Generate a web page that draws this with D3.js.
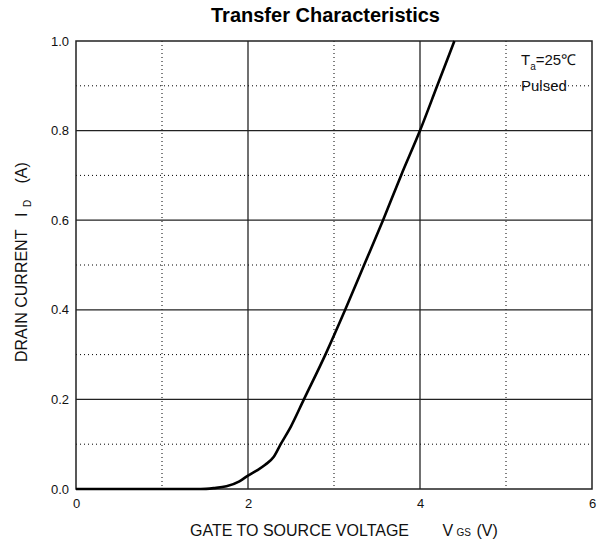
<!DOCTYPE html>
<html><head><meta charset="utf-8">
<script src="https://cdn.jsdelivr.net/npm/d3@7"></script>
<style>
body{margin:0;background:#fff;}
svg{display:block;font-family:"Liberation Sans",Arial,sans-serif;}
</style></head>
<body><svg id="c" width="602" height="549"></svg>
<script>
const vgs = [0, 1.45, 1.6, 1.75, 1.9, 2.0, 2.1, 2.2, 2.3, 2.38, 2.5, 2.65, 2.9, 3.13, 3.35, 3.57, 3.78, 4.0, 4.2, 4.4];
const idrain = [0, 0, 0.002, 0.006, 0.017, 0.030, 0.041, 0.054, 0.072, 0.1, 0.14, 0.2, 0.3, 0.4, 0.5, 0.6, 0.7, 0.8, 0.9, 1.0];
const xTicks = [0, 2, 4, 6];
const xMinor = [1, 3, 5];
const yTicks = [0.0, 0.2, 0.4, 0.6, 0.8, 1.0];
const yMinor = [0.1, 0.3, 0.5, 0.7, 0.9];

const svg = d3.select("#c");
const L = 76, R = 592, T = 41, B = 489;
const x = d3.scaleLinear().domain([0, 6]).range([L, R]);
const y = d3.scaleLinear().domain([0, 1]).range([B, T]);

// minor dotted grid
svg.append("g").selectAll("line").data(xMinor).join("line")
  .attr("x1", d => x(d)).attr("x2", d => x(d)).attr("y1", T).attr("y2", B)
  .attr("stroke", "#000").attr("stroke-width", 1).attr("stroke-dasharray", "1,3");
svg.append("g").selectAll("line").data(yMinor).join("line")
  .attr("y1", d => y(d)).attr("y2", d => y(d)).attr("x1", L).attr("x2", R)
  .attr("stroke", "#000").attr("stroke-width", 1).attr("stroke-dasharray", "1,3");
// major grid
svg.append("g").selectAll("line").data(xTicks.slice(1, -1)).join("line")
  .attr("x1", d => x(d)).attr("x2", d => x(d)).attr("y1", T).attr("y2", B)
  .attr("stroke", "#111").attr("stroke-width", 1.2);
svg.append("g").selectAll("line").data(yTicks.slice(1, -1)).join("line")
  .attr("y1", d => y(d)).attr("y2", d => y(d)).attr("x1", L).attr("x2", R)
  .attr("stroke", "#222").attr("stroke-width", 1.2);

// frame
svg.append("rect").attr("x", L).attr("y", T).attr("width", R - L).attr("height", B - T)
  .attr("fill", "none").attr("stroke", "#222").attr("stroke-width", 1.5);

// axes (labels only)
const xAxis = d3.axisBottom(x).tickValues(xTicks).tickFormat(d3.format("d")).tickSize(0).tickPadding(10);
const gx = svg.append("g").attr("transform", `translate(0,${B})`).call(xAxis);
gx.select(".domain").remove();
gx.selectAll("text").attr("font-size", 13).attr("font-family", "Liberation Sans, Arial, sans-serif").attr("fill", "#111");

const yAxis = d3.axisLeft(y).tickValues(yTicks).tickFormat(d3.format(".1f")).tickSize(0).tickPadding(7);
const gy = svg.append("g").attr("transform", `translate(${L},0)`).call(yAxis);
gy.select(".domain").remove();
gy.selectAll("text").attr("font-size", 13).attr("font-family", "Liberation Sans, Arial, sans-serif").attr("fill", "#111");

// curve
const pts = vgs.map((v, i) => [v, idrain[i]]);
svg.append("path").datum(pts)
  .attr("d", d3.line().x(d => x(d[0])).y(d => y(d[1])).curve(d3.curveMonotoneX))
  .attr("fill", "none").attr("stroke", "#000").attr("stroke-width", 2.6);

// title
svg.append("text").attr("x", 325.5).attr("y", 22).attr("text-anchor", "middle")
  .attr("font-size", 20).attr("font-weight", "bold").attr("fill", "#000").text("Transfer Characteristics");

// annotations
const ann = svg.append("text").attr("x", 521).attr("y", 65).attr("font-size", 15).attr("fill", "#111");
ann.append("tspan").text("T");
ann.append("tspan").attr("font-size", 10).attr("dy", 5).text("a");
ann.append("tspan").attr("dy", -5).text("=25℃");
svg.append("text").attr("x", 521).attr("y", 91).attr("font-size", 15).attr("fill", "#111").text("Pulsed");

// x label
svg.append("text").attr("x", 190).attr("y", 536).attr("font-size", 16).attr("fill", "#111").text("GATE TO SOURCE VOLTAGE");
svg.append("text").attr("x", 442.5).attr("y", 536).attr("font-size", 16).attr("fill", "#111").text("V");
svg.append("text").attr("x", 456.5).attr("y", 536).attr("font-size", 10).attr("fill", "#111").text("GS");
svg.append("text").attr("x", 476.5).attr("y", 536).attr("font-size", 16).attr("fill", "#111").text("(V)");

// y label (rotated)
const yl = svg.append("g").attr("transform", "translate(26.5,0) rotate(-90)");
yl.append("text").attr("x", -362).attr("y", 0).attr("font-size", 16).attr("fill", "#111").text("DRAIN CURRENT");
yl.append("text").attr("x", -217).attr("y", 0).attr("font-size", 16).attr("fill", "#111").text("I");
yl.append("text").attr("x", -207).attr("y", 4).attr("font-size", 10).attr("fill", "#111").text("D");
yl.append("text").attr("x", -183.5).attr("y", 0).attr("font-size", 16).attr("fill", "#111").text("(A)");
</script></body></html>
